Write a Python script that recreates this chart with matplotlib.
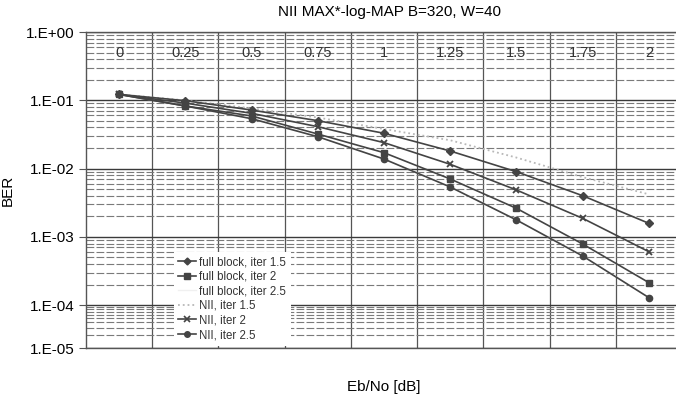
import matplotlib
matplotlib.use('Agg')
import matplotlib.pyplot as plt
import numpy as np
from matplotlib.ticker import FixedLocator, NullFormatter
from matplotlib.lines import Line2D

plt.rcParams['font.family'] = ['Liberation Sans', 'DejaVu Sans']

# ---- data ----
categories = ['0', '0.25', '0.5', '0.75', '1', '1.25', '1.5', '1.75', '2']
full_block_15 = [0.122, 0.0987, 0.072, 0.0503, 0.0329, 0.0181, 0.0090, 0.00401, 0.00158]
full_block_2 = [0.122, 0.0826, 0.059, 0.0321, 0.0171, 0.00705, 0.00262, 0.000787, 0.000214]
full_block_25 = [0.122, 0.0826, 0.054, 0.0294, 0.0139, 0.0054, 0.00178, 0.000528, 0.00013]
nii_15 = [0.122, 0.100, 0.076, 0.056, 0.038, 0.026, 0.0145, 0.0075, 0.0042]
nii_2 = [0.122, 0.091, 0.0645, 0.0411, 0.024, 0.01156, 0.00486, 0.00187, 0.000607]
nii_25 = [0.122, 0.0826, 0.0538, 0.0293, 0.0138, 0.00538, 0.00177, 0.000525, 0.000129]
y_tick_labels = ['1.E+00', '1.E-01', '1.E-02', '1.E-03', '1.E-04', '1.E-05']
y_tick_values = [1, 1e-1, 1e-2, 1e-3, 1e-4, 1e-5]

W, H = 676, 405
fig = plt.figure(figsize=(W / 100, H / 100), dpi=100)
L, R, T, B = 86, 682, 32, 348
ax = fig.add_axes([L / W, (H - B) / H, (R - L) / W, (B - T) / H])

# bottom decade is drawn compressed in the reference
SQ = (B - T - 4 * 68.3) / 68.3


def fwd(v):
    l = np.log10(np.clip(np.asarray(v, dtype=float), 1e-12, None))
    return np.where(l >= -4, l, -4 + (l + 4) * SQ)


def inv(u):
    u = np.asarray(u, dtype=float)
    return np.where(u >= -4, 10.0 ** u, 10.0 ** (-4 + (u + 4) / SQ))


ax.set_yscale('function', functions=(fwd, inv))
ax.set_ylim(1e-5, 1)
x = np.arange(len(categories))
ax.set_xlim(-0.5, len(categories) - 0.5)

dark = '#444444'
ax.plot(x, full_block_25, color='#f0f0f0', lw=1.0, zorder=2)
ax.plot(x, nii_15, color='#b8b8b8', lw=1.3, ls=':', zorder=3)
ax.plot(x, full_block_15, color=dark, lw=1.2, marker='D', ms=4, zorder=4)
ax.plot(x, full_block_2, color=dark, lw=1.2, marker='s', ms=4.5, zorder=4)
ax.plot(x, nii_2, color=dark, lw=1.2, marker='x', ms=5, mew=1.3, zorder=4)
ax.plot(x, nii_25, color=dark, lw=1.2, marker='o', ms=4.5, zorder=4)

# y axis ticks and grid
ax.yaxis.set_major_locator(FixedLocator(y_tick_values))
ax.set_yticklabels(y_tick_labels)
minor = [k * 10.0 ** d for d in range(-5, 0) for k in range(2, 10)]
ax.yaxis.set_minor_locator(FixedLocator(minor))
ax.yaxis.set_minor_formatter(NullFormatter())
ax.tick_params(axis='y', which='major', length=5, color='#555555', labelsize=11, pad=3)
ax.tick_params(axis='y', which='minor', length=0)
ax.grid(which='major', axis='y', color='#3a3a3a', lw=1.0)
ax.grid(which='minor', axis='y', color='#7a7a7a', lw=0.8, ls=(0, (7, 2)))

# x: category boundaries as vertical grid
ax.xaxis.set_major_locator(FixedLocator([]))
ax.xaxis.set_minor_locator(FixedLocator(np.arange(len(categories) - 1) + 0.5))
ax.xaxis.set_minor_formatter(NullFormatter())
ax.tick_params(axis='x', which='both', length=0)
ax.grid(which='minor', axis='x', color='#555555', lw=0.9)

for i, c in enumerate(categories):
    ax.text(i, 0.5, c, ha='center', va='center', fontsize=10.5, color='#333333', zorder=5)

for s in ax.spines.values():
    s.set_color('#555555')
    s.set_linewidth(1.0)

ax.set_ylabel('BER', fontsize=11, labelpad=8)
ax.set_xlabel('Eb/No [dB]', fontsize=11, labelpad=20)
fig.text(390 / W, 1 - 12 / H, 'NII MAX*-log-MAP B=320, W=40', ha='center', va='center', fontsize=11)

handles = [
    Line2D([], [], color=dark, lw=1.2, marker='D', ms=3.5),
    Line2D([], [], color=dark, lw=1.2, marker='s', ms=4),
    Line2D([], [], color='#f0f0f0', lw=1.0),
    Line2D([], [], color='#b8b8b8', lw=1.3, ls=':'),
    Line2D([], [], color=dark, lw=1.2, marker='x', ms=4.5, mew=1.2),
    Line2D([], [], color=dark, lw=1.2, marker='o', ms=4),
]
labels = ['full block, iter 1.5', 'full block, iter 2', 'full block, iter 2.5',
          'NII, iter 1.5', 'NII, iter 2', 'NII, iter 2.5']
leg = ax.legend(handles, labels, loc='upper left', bbox_to_anchor=(168 / W, 1 - 246 / H),
                bbox_transform=fig.transFigure, fontsize=8.3, frameon=True, framealpha=1,
                facecolor='white', edgecolor='none', fancybox=False, handlelength=1.5,
                handletextpad=0.3, labelspacing=0.22, borderpad=0.4)
for t in leg.get_texts():
    t.set_color('#333333')
leg.set_zorder(6)

fig.savefig('out.png', dpi=100)
